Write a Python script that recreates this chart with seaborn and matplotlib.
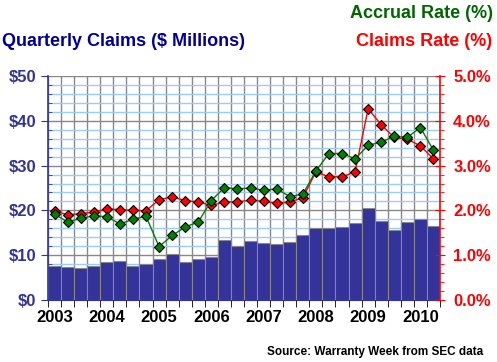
import numpy as np
import pandas as pd
import matplotlib
matplotlib.use("Agg")
import matplotlib.pyplot as plt
from matplotlib.ticker import MultipleLocator, FixedLocator
import seaborn as sns

# Datos trimestrales 2003 Q1 - 2010 Q2
trimestres = [f"{a}Q{q}" for a in range(2003, 2011) for q in range(1, 5)][:30]
reclamos = [7.7, 7.3, 7.1, 7.5, 8.4, 8.7, 7.7, 8.0, 9.2, 10.2, 8.4, 9.2, 9.6, 13.4, 12.0,
            13.1, 12.7, 12.6, 12.9, 14.4, 16.1, 16.1, 16.4, 17.2, 20.5, 17.6, 15.6, 17.3,
            18.0, 16.5]
tasa_reclamos = [1.99, 1.90, 1.93, 1.96, 2.03, 2.02, 2.00, 1.99, 2.24, 2.30, 2.22, 2.19,
                 2.11, 2.19, 2.19, 2.23, 2.20, 2.16, 2.19, 2.28, 2.86, 2.75, 2.75, 2.86,
                 4.27, 3.91, 3.63, 3.59, 3.44, 3.15]
tasa_acumulacion = [1.92, 1.74, 1.82, 1.88, 1.86, 1.70, 1.80, 1.87, 1.19, 1.44, 1.63, 1.74,
                    2.22, 2.51, 2.48, 2.50, 2.45, 2.48, 2.31, 2.36, 2.88, 3.27, 3.27, 3.15,
                    3.45, 3.53, 3.65, 3.63, 3.85, 3.34]
anios = ["2003", "2004", "2005", "2006", "2007", "2008", "2009", "2010"]

df = pd.DataFrame({"trimestre": trimestres, "reclamos": reclamos,
                   "tasa_reclamos": tasa_reclamos, "tasa_acumulacion": tasa_acumulacion})
df["pos"] = np.arange(len(df))

sns.set_style("white")
plt.rcParams["font.family"] = ["Liberation Sans", "DejaVu Sans"]
plt.rcParams["font.weight"] = "bold"

fig = plt.figure(figsize=(4.97, 3.62), dpi=100)
ax = fig.add_axes([48 / 497, 62 / 362, 392 / 497, 224 / 362])

# Barras: reclamos trimestrales
sns.barplot(data=df, x="trimestre", y="reclamos", color="#333399", width=1.0,
            edgecolor="#888888", linewidth=0.8, saturation=1, ax=ax)
ax.set_xlim(-0.5, 29.5)
ax.set_ylim(0, 50)
ax.set_xlabel("")
ax.set_ylabel("")
ax.set_axisbelow(True)

ax.xaxis.set_major_locator(FixedLocator([0, 4, 8, 12, 16, 20, 24, 28]))
ax.set_xticklabels(anios, fontsize=12, fontweight="bold", color="black")
ax.xaxis.set_minor_locator(FixedLocator(np.arange(-0.5, 30, 1)))
ax.tick_params(axis="x", which="major", length=0, pad=7)
ax.tick_params(axis="x", which="minor", length=5, direction="out", color="black", bottom=True)

ax.set_yticks(range(0, 60, 10))
ax.set_yticklabels([f"${v}" for v in range(0, 60, 10)], fontsize=12, fontweight="bold",
                   color="#333399")
ax.yaxis.set_minor_locator(MultipleLocator(2))
ax.tick_params(axis="y", which="major", length=5, direction="out", color="#333399", left=True)
ax.tick_params(axis="y", which="minor", length=3, direction="in", color="#333399", left=True)

ax.grid(which="major", axis="y", color="#888888", linewidth=1)
ax.grid(which="minor", axis="y", color="#99ccff", linewidth=1)
ax.grid(which="minor", axis="x", color="#888888", linewidth=1)
ax.grid(which="major", axis="x", visible=False)

for lado in ["top", "right"]:
    ax.spines[lado].set_visible(False)
ax.spines["left"].set_color("#333399")
ax.spines["left"].set_linewidth(1.2)
ax.spines["bottom"].set_color("#333399")

# Eje derecho: tasas
ax2 = ax.twinx()
sns.lineplot(data=df, x="pos", y="tasa_reclamos", color="#ff0000", linewidth=1,
             marker="D", markersize=5, markerfacecolor="#ff0000", markeredgecolor="black",
             markeredgewidth=0.8, ax=ax2)
sns.lineplot(data=df, x="pos", y="tasa_acumulacion", color="#008000", linewidth=1,
             marker="D", markersize=5, markerfacecolor="#008000", markeredgecolor="black",
             markeredgewidth=0.8, ax=ax2)
ax2.set_xlim(-0.5, 29.5)
ax2.set_ylim(0, 5)
ax2.set_xlabel("")
ax2.set_ylabel("")
ax2.set_yticks(np.arange(0, 5.5, 1))
ax2.set_yticklabels([f"{v:.1f}%" for v in np.arange(0, 5.5, 1)], fontsize=12,
                    fontweight="bold", color="#ff0000")
ax2.yaxis.set_minor_locator(MultipleLocator(0.2))
ax2.tick_params(axis="y", which="major", length=7, direction="inout", color="#ff0000", pad=6)
ax2.tick_params(axis="y", which="minor", length=3, direction="out", color="#ff0000")
for lado in ["top", "left", "bottom"]:
    ax2.spines[lado].set_visible(False)
ax2.spines["right"].set_color("#ff0000")
ax2.spines["right"].set_linewidth(1.2)
ax2.grid(False)

# Títulos
fig.text(2 / 497, 1 - 42 / 362, "Quarterly Claims ($ Millions)", color="#000099",
         fontsize=13, fontweight="bold", ha="left", va="center")
fig.text(493 / 497, 1 - 13 / 362, "Accrual Rate (%)", color="#006600",
         fontsize=13, fontweight="bold", ha="right", va="center")
fig.text(492 / 497, 1 - 42 / 362, "Claims Rate (%)", color="#ff0000",
         fontsize=13, fontweight="bold", ha="right", va="center")
fig.text(483 / 497, 1 - 352 / 362, "Source: Warranty Week from SEC data", color="black",
         fontsize=8.5, fontweight="bold", ha="right", va="center")

fig.savefig("out.png", dpi=100, facecolor="white")
